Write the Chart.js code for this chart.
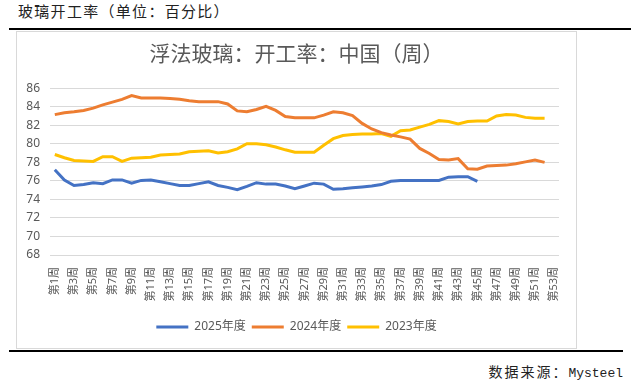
<!DOCTYPE html>
<html>
<head>
<meta charset="utf-8">
<script src="https://cdn.jsdelivr.net/npm/chart.js@4"></script>
<style>
  body { margin: 0; width: 631px; height: 386px; background: #fff; position: relative; overflow: hidden;
         font-family: "Noto Sans CJK SC", sans-serif; }
  #head { position: absolute; left: 18px; top: 2px; font-size: 15px; line-height: 18px; letter-spacing: 1.3px; color: #222; }
  #topline { position: absolute; left: 9px; top: 28px; width: 622px; height: 2px; background: #000; }
  #box { position: absolute; left: 16px; top: 31px; width: 561px; height: 318px; border: 1px solid #d9d9d9; box-sizing: border-box; }
  #botline { position: absolute; left: 9px; top: 350px; width: 614px; height: 2px; background: #000; }
  #source { position: absolute; right: 8px; top: 362px; font-size: 14px; line-height: 18px; color: #222; }
  #source .cn { letter-spacing: 2px; }
  #source .en { font-family: "Liberation Mono", monospace; font-size: 13px; }
</style>
</head>
<body>
<div id="head">玻璃开工率（单位：百分比）</div>
<div id="topline"></div>
<div id="box"><canvas id="glassChart" width="559" height="316"></canvas></div>
<div id="botline"></div>
<div id="source"><span class="cn">数据来源：</span><span class="en">Mysteel</span></div>
<script>
// weeks on the x axis
const weeks = [];
for (let i = 1; i <= 53; i++) weeks.push('第' + i + '周');

const seriesNames = ['2025年度', '2024年度', '2023年度'];

const rate2025 = [77.2, 76.1, 75.5, 75.6, 75.8, 75.7, 76.1, 76.1, 75.75, 76.05,
  76.1, 75.9, 75.7, 75.5, 75.5, 75.7, 75.9, 75.5, 75.3, 75.05,
  75.4, 75.8, 75.65, 75.65, 75.45, 75.15, 75.45, 75.75, 75.65, 75.1,
  75.15, 75.25, 75.35, 75.45, 75.6, 75.95, 76.05, 76.05, 76.05, 76.05,
  76.05, 76.4, 76.45, 76.45, 75.95];

const rate2024 = [83.15, 83.35, 83.45, 83.6, 83.85, 84.2, 84.5, 84.8, 85.2, 84.95,
  84.95, 84.95, 84.9, 84.8, 84.65, 84.55, 84.55, 84.55, 84.3, 83.55,
  83.45, 83.7, 84.05, 83.6, 82.95, 82.8, 82.8, 82.8, 83.1, 83.45,
  83.35, 83.05, 82.2, 81.6, 81.2, 80.95, 80.75, 80.5, 79.5, 78.95,
  78.3, 78.25, 78.4, 77.3, 77.25, 77.6, 77.65, 77.7, 77.85, 78.05,
  78.25, 78.0];

const rate2023 = [78.85, 78.5, 78.2, 78.15, 78.1, 78.6, 78.6, 78.1, 78.45, 78.5,
  78.55, 78.8, 78.85, 78.9, 79.15, 79.2, 79.25, 79.0, 79.15, 79.45,
  80.0, 80.0, 79.9, 79.65, 79.35, 79.1, 79.1, 79.1, 79.85, 80.55,
  80.9, 81.0, 81.05, 81.05, 81.1, 80.8, 81.4, 81.5, 81.8, 82.1,
  82.5, 82.4, 82.15, 82.4, 82.45, 82.45, 83.0, 83.15, 83.1, 82.85,
  82.75, 82.75];

const colors = ['#4472C4', '#ED7D31', '#FFC000'];

Chart.defaults.font.family = '"Noto Sans", "Noto Sans CJK SC", sans-serif';
Chart.defaults.color = '#595959';

const ctx = document.getElementById('glassChart').getContext('2d');
new Chart(ctx, {
  type: 'line',
  data: {
    labels: weeks,
    datasets: [rate2025, rate2024, rate2023].map((vals, i) => ({
      label: seriesNames[i],
      data: vals,
      borderColor: colors[i],
      backgroundColor: colors[i],
      borderWidth: 3,
      pointRadius: 0,
      pointStyle: 'line',
      tension: 0
    }))
  },
  options: {
    responsive: false,
    animation: false,
    layout: { padding: { left: 0, right: 0, top: 0, bottom: 5 } },
    plugins: {
      title: {
        display: true,
        text: '浮法玻璃：开工率：中国（周）',
        color: '#595959',
        font: { size: 21, weight: 'normal', family: '"Noto Sans CJK SC", sans-serif' },
        padding: { top: 8, bottom: 23 }
      },
      legend: {
        position: 'bottom',
        labels: {
          usePointStyle: true,
          pointStyle: 'line',
          pointStyleWidth: 32,
          padding: 6,
          color: '#595959',
          font: { size: 12 }
        }
      },
      tooltip: { enabled: false }
    },
    scales: {
      x: {
        offset: true,
        grid: { display: false },
        border: { display: false },
        ticks: {
          autoSkip: false,
          minRotation: 90,
          maxRotation: 90,
          padding: 4,
          font: { size: 11 },
          color: '#595959',
          callback: function (val, idx) { return idx % 2 === 0 ? this.getLabelForValue(val) : ''; }
        },
        afterFit: (scale) => { scale.height = 60; }
      },
      y: {
        min: 68,
        max: 86,
        ticks: { stepSize: 2, padding: 10, font: { size: 12 }, color: '#595959' },
        grid: { color: '#D9D9D9', drawTicks: false },
        border: { display: false },
        afterFit: (scale) => { scale.width = 33; }
      },
      // empty right-hand spacer so the title and legend stay centred on the box
      yRight: {
        position: 'right',
        min: 68,
        max: 86,
        grid: { display: false },
        border: { display: false },
        ticks: { display: false },
        afterFit: (scale) => { scale.width = 17; }
      }
    }
  }
});
</script>
</body>
</html>
